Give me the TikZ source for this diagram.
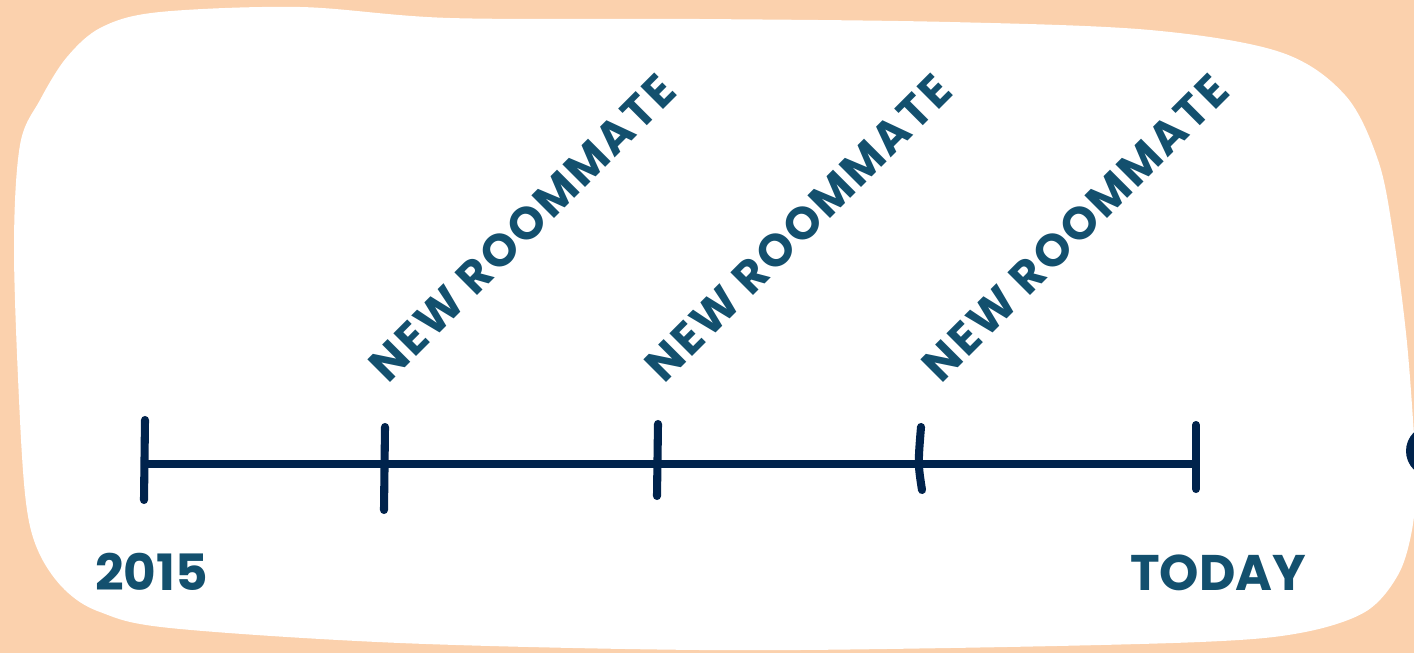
\documentclass[tikz,border=0pt]{standalone}
\usepackage{fontspec}
\setmainfont{Poppins}
\usetikzlibrary{calc}
\definecolor{cpeach}{HTML}{FBD1AD}
\definecolor{cnavy}{HTML}{00234C}
\definecolor{cteal}{HTML}{13506E}
\tikzset{
  axis/.style={draw=cnavy, line width=5pt},
  tickmark/.style={draw=cnavy, line width=4.6pt, line cap=round},
  mate/.style={font=\fontsize{26}{26}\selectfont\bfseries\addfontfeature{LetterSpace=5}, text=cteal, inner sep=0pt, rotate=45, anchor=base west},
  endlabel/.style={font=\fontsize{28.5}{28.5}\selectfont\bfseries, text=cteal, inner sep=0pt, anchor=base west},
}

\begin{document}
\begin{tikzpicture}[x=0.02cm, y=-0.02cm]
  \clip (0,0) rectangle (1414,653);
  \fill[cpeach] (0,0) rectangle (1414,653);
  % white card
  \fill[white] plot[smooth cycle, tension=0.55] coordinates {
    (14,250) (20,145) (40,100) (67,57) (102,27) (160,12) (300,7) (450,18)
    (700,19) (950,22) (1150,30) (1280,52) (1345,95) (1378,160) (1393,233)
    (1406,333) (1413,420) (1416,480) (1412,530) (1398,575) (1365,612)
    (1300,633) (1200,642) (950,648) (700,650) (400,643) (170,628) (100,612)
    (65,590) (40,555) (27,510) (20,420)};
  \fill[cnavy] (1432,451) circle (26);

  % timeline
  \coordinate (y2015) at (145,464);
  \coordinate (r1) at (385,464);
  \coordinate (r2) at (657,464);
  \coordinate (r3) at (920,464);
  \coordinate (today) at (1196,464);
  \draw[axis] (y2015) -- (today);
  \draw[tickmark] ($(y2015)+(0,-44)$) -- ($(y2015)+(-1,36)$);
  \draw[tickmark] ($(r1)+(0,-37)$) -- ($(r1)+(-1,46)$);
  \draw[tickmark] ($(r2)+(1,-40)$) -- ($(r2)+(0,32)$);
  \draw[tickmark] ($(r3)+(1,-37)$) .. controls ($(r3)+(-2,0)$) .. ($(r3)+(2,26)$);
  \draw[tickmark] ($(today)+(0,-39)$) -- ($(today)+(0,25)$);

  \node[mate] (lab1) at (388,385) {NEW ROOMMATE};
  \node[mate] (lab2) at (664,385) {NEW ROOMMATE};
  \node[mate] (lab3) at (941,385) {NEW ROOMMATE};

  \node[endlabel] (start) at (95,590) {2015};
  \node[endlabel] (end) at (1130,590) {TODAY};
\end{tikzpicture}
\end{document}
